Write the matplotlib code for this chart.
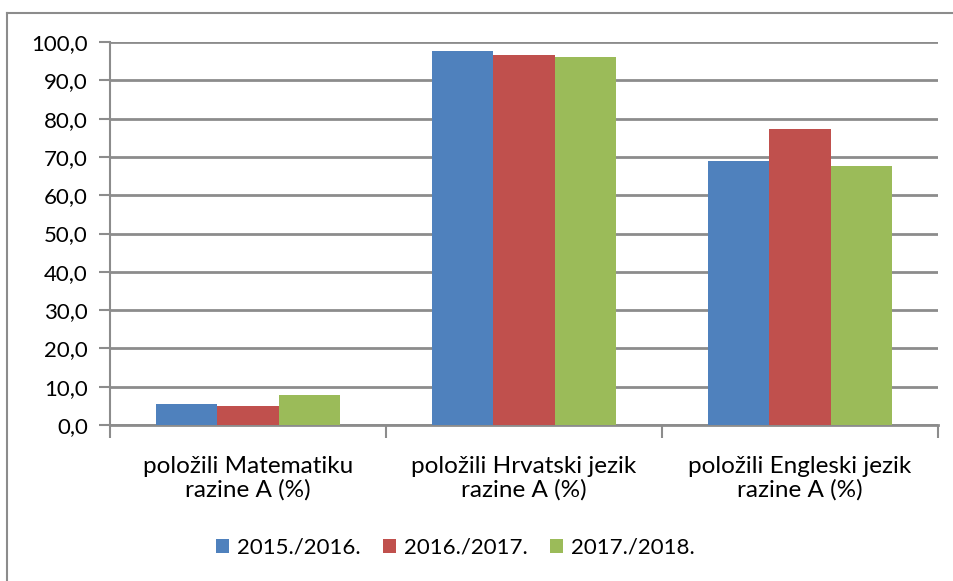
import matplotlib.pyplot as plt
import numpy as np
from matplotlib.lines import Line2D

plt.rcParams['font.family'] = ['Lato', 'DejaVu Sans']

categories = ['položili Matematiku\nrazine A (%)',
              'položili Hrvatski jezik\nrazine A (%)',
              'položili Engleski jezik\nrazine A (%)']
series = ['2015./2016.', '2016./2017.', '2017./2018.']
values = [
    [5.6, 97.7, 68.9],
    [4.9, 96.6, 77.2],
    [7.8, 96.1, 67.7],
]
colors = ['#4F81BD', '#C0504D', '#9BBB59']

W, H = 954, 581
fig = plt.figure(figsize=(W / 100, H / 100), dpi=100)
ax = fig.add_axes([110 / W, 1 - 425 / H, (938 - 110) / W, (425 - 42) / H])

x = np.arange(len(categories))
bw = 0.222
for i, (s, v, c) in enumerate(zip(series, values, colors)):
    ax.bar(x + (i - 1) * bw, v, bw, color=c, label=s, zorder=3)

ax.set_xlim(-0.5, len(categories) - 0.5)
ax.set_ylim(0, 100)
ax.set_yticks(np.arange(0, 101, 10))
ax.set_yticklabels([f'{t:.1f}'.replace('.', ',') for t in np.arange(0, 101, 10)])
ax.yaxis.grid(True, color='#8C8C8C', linewidth=2, zorder=0)
ax.set_xticks(np.arange(-0.5, len(categories)), minor=False)
ax.set_xticklabels([])
ax.set_xticks(x, minor=True)
ax.set_xticklabels(categories, minor=True, fontsize=17.5, linespacing=1.15)
ax.tick_params(axis='x', which='minor', length=0, pad=22)
ax.tick_params(axis='x', which='major', length=9, width=1.5, color='#8C8C8C')
ax.tick_params(axis='y', length=8, width=1.5, color='#8C8C8C', labelsize=16, pad=8)
for s in ['top', 'right']:
    ax.spines[s].set_visible(False)
ax.spines['left'].set_color('#8C8C8C')
ax.spines['left'].set_linewidth(1.5)
ax.spines['bottom'].set_color('#8C8C8C')
ax.spines['bottom'].set_linewidth(2)

ax.legend(loc='center', bbox_to_anchor=(455 / W, 1 - 548 / H), bbox_transform=fig.transFigure,
          ncol=3, frameon=False, fontsize=16, handlelength=0.6, handleheight=0.6,
          handletextpad=0.35, columnspacing=1.0)

# outer chart frame (left and top edges visible)
fig.add_artist(Line2D([7.5 / W, 7.5 / W], [0, 1 - 13 / H], color='#8C8C8C', lw=1.5,
                      transform=fig.transFigure))
fig.add_artist(Line2D([7.5 / W, 1], [1 - 13 / H, 1 - 13 / H], color='#8C8C8C', lw=1.5,
                      transform=fig.transFigure))

fig.savefig('out.png', dpi=100)
